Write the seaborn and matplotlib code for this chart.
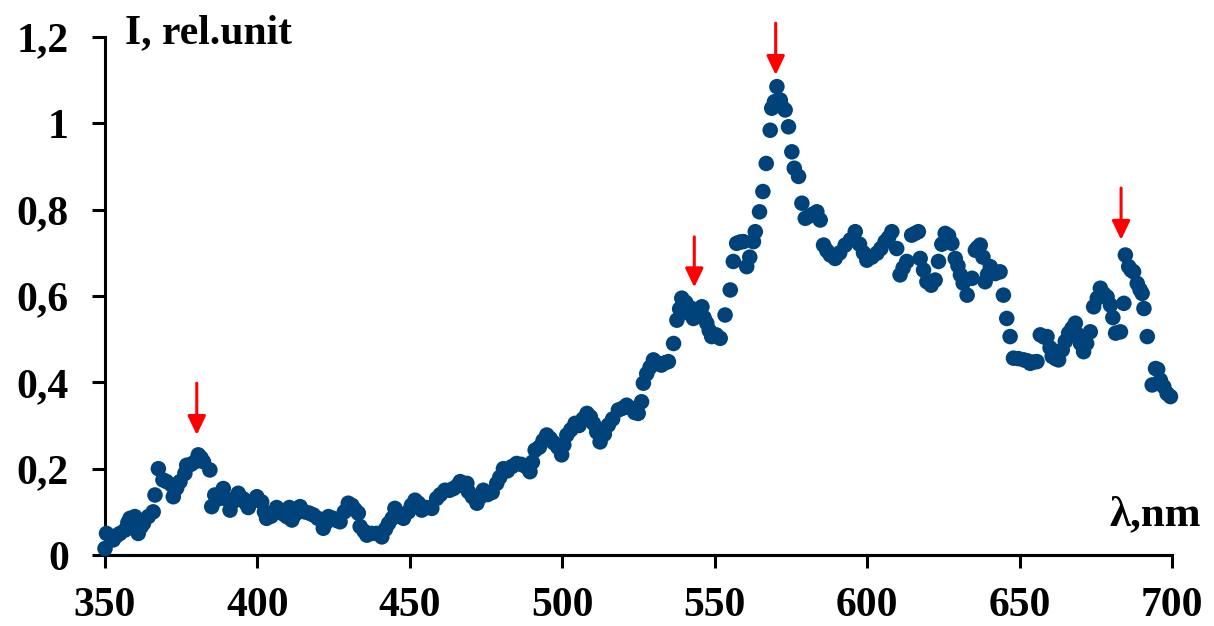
import matplotlib
matplotlib.use("Agg")
import matplotlib.pyplot as plt
import seaborn as sns
import pandas as pd

# Wavelength (nm) and relative intensity of the measured spectrum
wavelength = [
    350.0, 350.5, 352.7, 353.8, 354.9, 356.6, 357.5, 358.2, 359.8, 360.9,
    361.8, 362.6, 364.2, 365.8, 366.4, 367.5, 369.0, 370.2, 371.9, 372.4,
    373.5, 374.6, 376.2, 376.8, 378.2, 379.5, 380.6, 381.5, 382.3, 384.4,
    385.0, 386.0, 387.2, 388.8, 389.8, 391.0, 392.3, 393.7, 395.4, 396.2,
    397.0, 398.5, 399.8, 401.4, 402.3, 403.0, 404.5, 406.3, 407.4, 408.5,
    409.6, 410.5, 411.3, 412.5, 414.0, 415.5, 417.0, 418.3, 419.8, 421.6,
    422.5, 423.3, 424.8, 426.0, 427.1, 428.5, 429.8, 431.0, 432.0, 433.1,
    433.7, 435.0, 435.9, 437.5, 439.1, 440.8, 442.0, 443.0, 444.2, 445.1,
    446.5, 447.9, 449.5, 450.5, 451.7, 452.8, 453.9, 455.5, 457.2, 458.8,
    460.0, 461.5, 463.0, 464.3, 465.5, 466.5, 468.0, 468.7, 469.2, 470.5,
    472.0, 473.2, 474.1, 475.5, 477.0, 478.5, 479.5, 480.7, 482.0, 483.5,
    485.0, 486.5, 488.0, 489.4, 490.2, 491.1, 492.5, 493.7, 494.9, 496.0,
    497.2, 498.5, 499.8, 500.5, 501.5, 502.8, 504.2, 505.5, 506.8, 508.1,
    509.2, 510.2, 511.3, 512.4, 513.8, 515.1, 516.5, 518.4, 519.8, 521.1,
    522.5, 523.8, 524.9, 526.0, 526.6, 527.7, 528.8, 529.9, 531.2, 532.5,
    533.6, 534.8, 536.5, 537.6, 538.5, 539.2, 540.5, 541.5, 542.5, 543.0,
    544.5, 545.8, 546.5, 547.4, 548.2, 549.0, 550.5, 551.8, 553.4, 555.1,
    556.1, 557.2, 558.3, 559.4, 560.5, 561.5, 562.7, 563.3, 564.7, 565.8,
    566.9, 568.2, 568.7, 569.6, 570.4, 571.5, 572.0, 573.1, 574.2, 575.3,
    576.1, 577.5, 578.6, 579.7, 581.0, 582.3, 583.5, 584.6, 585.7, 586.8,
    587.9, 589.5, 591.0, 592.8, 594.5, 596.1, 597.5, 598.8, 599.9, 601.5,
    603.2, 604.5, 605.9, 607.0, 608.1, 609.7, 610.8, 611.8, 613.0, 614.6,
    615.7, 616.8, 617.4, 618.5, 619.6, 621.0, 622.3, 623.4, 624.5, 625.6,
    626.7, 627.8, 628.9, 629.8, 630.6, 631.5, 632.8, 634.4, 635.5, 636.2,
    637.1, 638.0, 638.7, 639.5, 640.4, 642.0, 643.6, 644.7, 645.8, 646.9,
    648.0, 649.6, 651.4, 652.5, 653.5, 654.6, 655.7, 656.8, 658.0, 659.0,
    660.0, 660.7, 661.8, 662.8, 664.0, 665.0, 666.1, 667.2, 668.3, 669.2,
    670.0, 671.0, 672.0, 673.2, 674.3, 675.5, 676.5, 677.6, 678.7, 679.8,
    680.6, 681.5, 683.1, 684.2, 684.7, 685.8, 686.6, 687.4, 688.6, 689.5,
    690.2, 690.8, 691.9, 693.5, 694.6, 695.3, 696.2, 697.3, 698.4, 699.5,
]
intensity = [
    0.015, 0.050, 0.035, 0.045, 0.050, 0.058, 0.075, 0.085, 0.089, 0.050,
    0.065, 0.073, 0.089, 0.100, 0.139, 0.200, 0.174, 0.170, 0.162, 0.135,
    0.155, 0.170, 0.189, 0.208, 0.210, 0.216, 0.232, 0.225, 0.216, 0.197,
    0.112, 0.139, 0.130, 0.154, 0.130, 0.104, 0.125, 0.143, 0.130, 0.120,
    0.110, 0.125, 0.135, 0.123, 0.100, 0.085, 0.090, 0.110, 0.104, 0.095,
    0.089, 0.110, 0.081, 0.095, 0.112, 0.100, 0.097, 0.093, 0.085, 0.062,
    0.075, 0.089, 0.085, 0.080, 0.077, 0.100, 0.120, 0.115, 0.105, 0.097,
    0.066, 0.055, 0.046, 0.050, 0.050, 0.042, 0.060, 0.073, 0.085, 0.108,
    0.090, 0.085, 0.100, 0.115, 0.127, 0.120, 0.104, 0.110, 0.108, 0.131,
    0.140, 0.150, 0.150, 0.154, 0.160, 0.170, 0.160, 0.166, 0.147, 0.135,
    0.120, 0.135, 0.150, 0.140, 0.145, 0.166, 0.180, 0.200, 0.195, 0.205,
    0.212, 0.210, 0.205, 0.193, 0.215, 0.243, 0.250, 0.265, 0.278, 0.270,
    0.260, 0.250, 0.232, 0.255, 0.278, 0.290, 0.305, 0.300, 0.315, 0.328,
    0.320, 0.305, 0.285, 0.262, 0.280, 0.301, 0.315, 0.336, 0.340, 0.347,
    0.340, 0.330, 0.328, 0.355, 0.398, 0.420, 0.435, 0.452, 0.445, 0.440,
    0.445, 0.448, 0.490, 0.544, 0.570, 0.595, 0.585, 0.560, 0.571, 0.548,
    0.565, 0.575, 0.550, 0.537, 0.520, 0.506, 0.510, 0.502, 0.556, 0.614,
    0.680, 0.722, 0.725, 0.726, 0.668, 0.690, 0.726, 0.749, 0.795, 0.842,
    0.907, 0.984, 1.035, 1.050, 1.085, 1.054, 1.039, 1.031, 0.992, 0.934,
    0.896, 0.877, 0.815, 0.780, 0.785, 0.790, 0.795, 0.776, 0.718, 0.705,
    0.695, 0.687, 0.700, 0.718, 0.730, 0.749, 0.720, 0.700, 0.683, 0.690,
    0.699, 0.710, 0.726, 0.735, 0.749, 0.710, 0.649, 0.665, 0.680, 0.741,
    0.745, 0.749, 0.687, 0.660, 0.633, 0.625, 0.637, 0.680, 0.720, 0.745,
    0.740, 0.722, 0.687, 0.670, 0.649, 0.630, 0.602, 0.641, 0.706, 0.712,
    0.718, 0.690, 0.633, 0.650, 0.668, 0.652, 0.656, 0.602, 0.548, 0.506,
    0.456, 0.455, 0.452, 0.450, 0.444, 0.447, 0.448, 0.510, 0.505, 0.506,
    0.480, 0.460, 0.455, 0.452, 0.475, 0.495, 0.514, 0.525, 0.537, 0.510,
    0.490, 0.471, 0.490, 0.517, 0.575, 0.595, 0.618, 0.605, 0.598, 0.579,
    0.550, 0.514, 0.517, 0.583, 0.695, 0.668, 0.660, 0.656, 0.629, 0.615,
    0.606, 0.571, 0.506, 0.394, 0.432, 0.430, 0.405, 0.390, 0.374, 0.367,
]

# Marked peaks: arrow position and its vertical extent (start, tip)
peak_x = [380.1, 543.3, 570.0, 683.3]
arrow_top = [0.398, 0.737, 1.232, 0.850]
arrow_tip = [0.278, 0.620, 1.112, 0.730]

x_ticks = [350, 400, 450, 500, 550, 600, 650, 700]
y_ticks = [0, 0.2, 0.4, 0.6, 0.8, 1.0, 1.2]
y_tick_labels = ["0", "0,2", "0,4", "0,6", "0,8", "1", "1,2"]

sns.set_style("ticks", {"axes.edgecolor": "black", "xtick.color": "black",
                        "ytick.color": "black", "text.color": "black",
                        "axes.labelcolor": "black"})
plt.rcParams["font.family"] = ["Liberation Serif", "DejaVu Serif"]
plt.rcParams["font.weight"] = "bold"

fig = plt.figure(figsize=(12.14, 6.26), dpi=100)
ax = fig.add_axes([0.0865, 0.1134, 0.8789, 0.8275])

df = pd.DataFrame({"wavelength": wavelength, "intensity": intensity})
sns.scatterplot(data=df, x="wavelength", y="intensity", ax=ax,
                color="#00427A", s=125, edgecolor="none", linewidth=0,
                clip_on=False, zorder=3)

for xp, yt, yb in zip(peak_x, arrow_top, arrow_tip):
    ax.annotate("", xy=(xp, yb), xytext=(xp, yt),
                arrowprops=dict(arrowstyle="-|>,head_length=1.15,head_width=0.55",
                                mutation_scale=10, color="red", lw=2.2,
                                shrinkA=0, shrinkB=0),
                annotation_clip=False, zorder=4)

ax.set_xlim(350, 700)
ax.set_ylim(0, 1.2)
ax.set_xticks(x_ticks)
ax.set_xticklabels([str(t) for t in x_ticks])
ax.set_yticks(y_ticks)
ax.set_yticklabels(y_tick_labels)
ax.set_xlabel("")
ax.set_ylabel("")

for side in ("top", "right"):
    ax.spines[side].set_visible(False)
for side in ("left", "bottom"):
    ax.spines[side].set_visible(True)
    ax.spines[side].set_linewidth(2.2)
# baseline of the wavelength axis
ax.axhline(0, color="black", lw=2.2, clip_on=False, zorder=2.5)

ax.tick_params(axis="both", which="major", direction="out", length=9.5,
               width=2.2, labelsize=30, bottom=True, left=True)
ax.tick_params(axis="y", pad=16.5)
ax.tick_params(axis="x", pad=13.5)

ax.text(0.0187, 0.988, "I, rel.unit", transform=ax.transAxes,
        fontsize=30, fontweight="bold", ha="left", va="baseline")
ax.text((1110 - 105) / 1067, 0.058, "λ,nm", transform=ax.transAxes,
        fontsize=31, fontweight="bold", ha="left", va="baseline")

fig.savefig("out.png", dpi=100)
